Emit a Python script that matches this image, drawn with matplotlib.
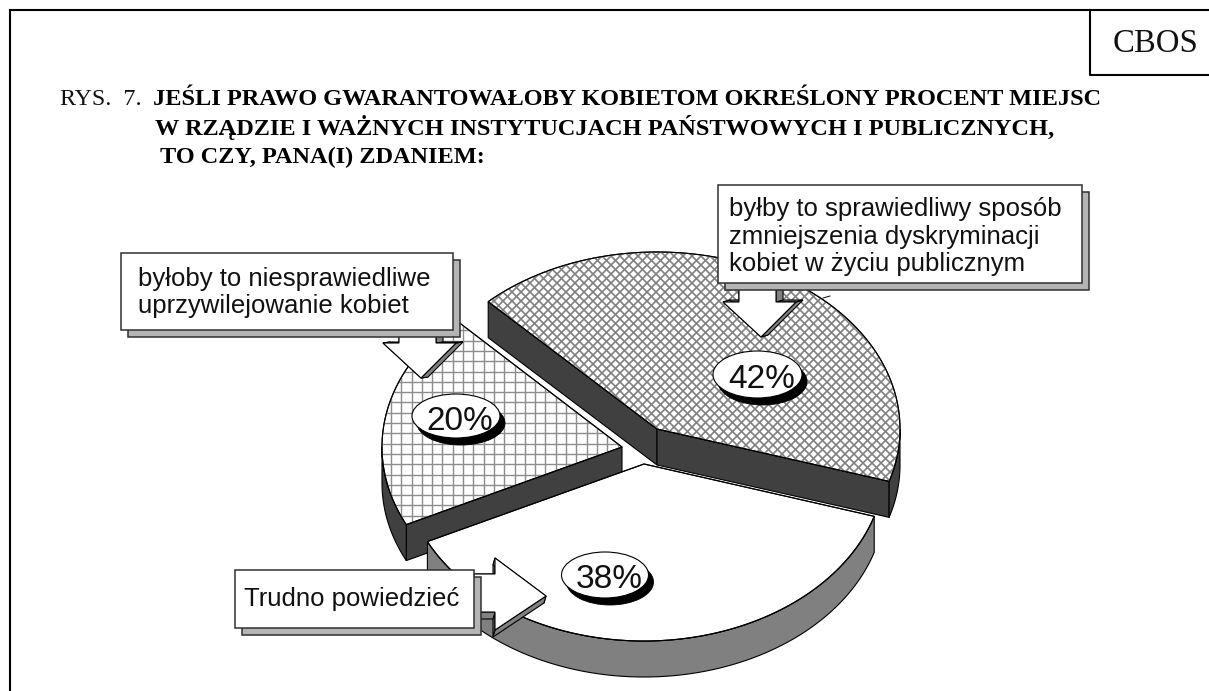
import numpy as np
import matplotlib
matplotlib.use('Agg')
import matplotlib.pyplot as plt
from matplotlib.patches import Polygon, Rectangle, Ellipse
from matplotlib.collections import LineCollection

# dane z wykresu
values = [42, 38, 20]
pct_labels = ['42%', '38%', '20%']
box_b_lines = ['byłby to sprawiedliwy sposób', 'zmniejszenia dyskryminacji', 'kobiet w życiu publicznym']
box_a_lines = ['byłoby to niesprawiedliwe', 'uprzywilejowanie kobiet']
box_c_lines = ['Trudno powiedzieć']
title_lines = ['JEŚLI PRAWO GWARANTOWAŁOBY KOBIETOM OKREŚLONY PROCENT MIEJSC',
               'W RZĄDZIE I WAŻNYCH INSTYTUCJACH PAŃSTWOWYCH I PUBLICZNYCH,',
               'TO CZY, PANA(I) ZDANIEM:']

# geometria pie (piksele obrazka)
radii_a = [243, 241, 240]
B = 177
DEPTH = 36
START = 134
centers = [(657, 429), (644, 464), (622, 447)]
side_colors = ['#404040', '#808080', '#404040']

fig = plt.figure(figsize=(12.09, 6.91), dpi=100)
ax = fig.add_axes([0, 0, 1, 1])
ax.set_xlim(0, 1209)
ax.set_ylim(691, 0)
ax.axis('off')


def arc(c, a, t1, t2, n=200):
    t = np.radians(np.linspace(t1, t2, n))
    return np.column_stack([c[0] + a * np.cos(t), c[1] - B * np.sin(t)])


def poly(pts, fc, ec='black', lw=0.8, z=2):
    p = Polygon(pts, closed=True, facecolor=fc, edgecolor=ec, linewidth=lw, zorder=z, joinstyle='miter')
    ax.add_patch(p)
    return p


def draw_sides(c, a, ts, te, color, z):
    # sciany boczne widoczne od dolu
    for ang, normal in ((ts, ts + 90), (te, te - 90)):
        if np.sin(np.radians(normal)) < 0:
            end = arc(c, a, ang, ang, 1)[0]
            poly([c, end, (end[0], end[1] + DEPTH), (c[0], c[1] + DEPTH)], color, z=z)
    lo = max(te, -180)
    hi = min(ts, 0)
    if hi > lo:
        top = arc(c, a, hi, lo)
        poly(np.vstack([top, (top + [0, DEPTH])[::-1]]), color, z=z)


def hatch_lines(patch, segs, color, lw, z):
    lc = LineCollection(segs, colors=color, linewidths=lw, zorder=z)
    ax.add_collection(lc)
    lc.set_clip_path(patch)


angles = START - np.cumsum([0] + values) * 3.6
order = [2, 1, 0]
z = 2
for i in order:
    ts, te = angles[i], angles[i + 1]
    c = centers[i]
    a = radii_a[i]
    draw_sides(c, a, ts, te, side_colors[i], z)
    top_pts = np.vstack([[c], arc(c, a, ts, te)])
    top = poly(top_pts, 'white', z=z)
    if i == 0:
        s = 9.0
        segs = []
        for k in np.arange(-1400, 1400, s):
            segs.append([(k, 0), (k + 800, 800)])
            segs.append([(k + 800, 0), (k, 800)])
        hatch_lines(top, segs, '#808080', 1.2, z)
    elif i == 2:
        s = 10.3
        segs = [[(x, 200), (x, 691)] for x in np.arange(360, 660, s)]
        segs += [[(300, y), (700, y)] for y in np.arange(320, 560, s)]
        hatch_lines(top, segs, '#8c8c8c', 1.0, z)
    poly(top_pts, 'none', z=z)
    z += 1

ax.plot([823, 830], [298, 296], color='black', lw=0.7, zorder=z)


def block_arrow(pts, off, zz):
    pts = np.array(pts, dtype=float)
    n = len(pts)
    for k in range(n):
        p0, p1 = pts[k], pts[(k + 1) % n]
        poly([p0, p1, p1 + off, p0 + off], '#808080', lw=0.8, z=zz)
    poly(pts, 'white', lw=0.8, z=zz)


def callout(x0, y0, x1, y1, lines, ys, tx, zz):
    ax.add_patch(Rectangle((x0 + 7, y0 + 7), x1 - x0, y1 - y0, facecolor='#b4b4b4', edgecolor='#303030', linewidth=1.1, zorder=zz))
    ax.add_patch(Rectangle((x0, y0), x1 - x0, y1 - y0, facecolor='white', edgecolor='#303030', linewidth=1.1, zorder=zz))
    for line, y in zip(lines, ys):
        ax.text(tx, y, line, family='Liberation Sans', fontsize=18.5, va='baseline', ha='left', color='#111111', zorder=zz)


# strzalki i ramki
block_arrow([(399, 330), (399, 343), (383, 343), (421, 378), (456, 343), (436, 343), (436, 330)], (7, -1), 10)
callout(121, 253, 453, 330, box_a_lines, [286, 313], 138, 11)

block_arrow([(739, 283), (739, 302), (723, 302), (761, 337), (796, 302), (776, 302), (776, 283)], (7, -2), 10)
callout(718, 185, 1082, 283, box_b_lines, [216, 244, 271], 729, 11)

block_arrow([(474, 574), (495, 574), (495, 558), (546, 596), (495, 630), (495, 612), (474, 612)], (-2, 7), 10)
callout(235, 570, 474, 628, box_c_lines, [606], 244, 11)

# etykiety procentowe
ell_pos = [(757.5, 374.5, 89, 47), (605, 575, 87, 46), (456, 416, 88, 44)]
for (ex, ey, ew, eh), lab in zip(ell_pos, pct_labels):
    ax.add_patch(Ellipse((ex + 5, ey + 7), ew, eh, facecolor='black', edgecolor='black', linewidth=0.6, zorder=12))
    ax.add_patch(Ellipse((ex, ey), ew, eh, facecolor='white', edgecolor='black', linewidth=0.8, zorder=13))
    ax.text(ex + 4, ey + 13.5, lab, family='Liberation Sans', fontsize=24, ha='center', va='baseline', color='#111111', zorder=14)

# ramka strony
ax.plot([10, 10], [691, 10], color='black', lw=1.5, zorder=20, solid_capstyle='projecting')
ax.plot([10, 1209], [10, 10], color='black', lw=1.5, zorder=20, solid_capstyle='projecting')
ax.plot([1090, 1090, 1209], [10, 75, 75], color='black', lw=1.5, zorder=20)
ax.text(1113, 52, 'CBOS', family='Liberation Serif', fontsize=23.6, va='baseline', ha='left', color='#111111')

# tytul
ax.text(60, 105, 'RYS.  7.', family='Liberation Serif', fontsize=17.3, va='baseline', ha='left', color='#111111')
for line, x, y in zip(title_lines, [153, 155, 160], [105, 135, 163]):
    ax.text(x, y, line, family='Liberation Serif', fontsize=17.5, fontweight='bold', va='baseline', ha='left', color='black')

fig.savefig('out.png', dpi=100)
